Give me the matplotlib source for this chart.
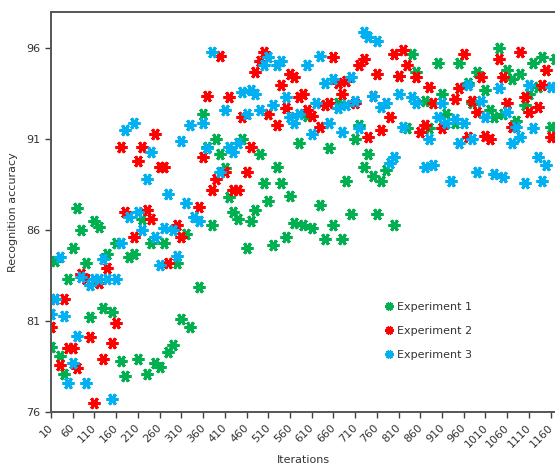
import matplotlib
matplotlib.use("Agg")
import matplotlib.pyplot as plt
import matplotlib.transforms as mtransforms
from matplotlib.ticker import FixedLocator

# ---- data ----
exp1_x = [10, 20, 30, 40, 50, 60, 70, 80, 90, 100, 110, 120, 130, 140, 150, 160, 170, 180, 190, 200,
          210, 220, 230, 240, 250, 260, 270, 280, 290, 300, 310, 320, 330, 350, 360, 370, 380, 390, 400,
          410, 420, 430, 440, 450, 460, 470, 480, 490, 500, 510, 520, 530, 540, 550, 560, 570, 580, 590,
          600, 610, 630, 640, 650, 660, 670, 680, 690, 700, 710, 720, 730, 740, 750, 760, 770, 780, 800,
          810, 830, 840, 850, 870, 880, 900, 910, 920, 940, 950, 970, 980, 990, 1010, 1020, 1030, 1040,
          1050, 1060, 1070, 1080, 1090, 1100, 1110, 1120, 1130, 1140, 1160, 1170]
exp1_y = [79.6, 84.3, 79.1, 78.1, 83.3, 85.0, 87.2, 86.0, 84.2, 81.2, 86.5, 86.2, 81.7, 84.7, 81.5, 85.3,
          78.8, 78.0, 84.5, 84.7, 78.9, 86.6, 78.1, 85.3, 78.7, 78.5, 85.3, 79.3, 79.7, 84.2, 81.1, 85.8,
          80.7, 82.9, 92.4, 90.6, 86.3, 91.0, 90.2, 89.4, 87.8, 87.0, 86.6, 91.0, 85.0, 86.5, 87.1, 90.2,
          88.6, 87.6, 85.2, 89.5, 88.6, 85.6, 87.9, 86.4, 90.8, 86.3, 92.3, 86.1, 87.4, 85.5, 90.5, 86.3,
          93.0, 85.5, 88.7, 86.9, 91.0, 91.8, 89.5, 90.2, 89.0, 86.9, 88.7, 89.3, 86.3, 94.5, 91.6, 95.7,
          94.7, 93.1, 91.6, 95.2, 93.5, 92.4, 91.9, 95.2, 94.1, 93.0, 94.7, 93.7, 92.6, 92.2, 96.0, 92.4,
          94.8, 94.3, 92.0, 94.6, 92.9, 93.5, 95.2, 93.9, 95.5, 91.7, 95.4]

exp2_x = [10, 20, 30, 40, 50, 60, 70, 80, 90, 100, 110, 120, 130, 140, 150, 160, 170, 180, 200, 210,
          220, 230, 240, 250, 260, 270, 280, 300, 310, 350, 360, 370, 380, 390, 400, 410, 420, 430, 440,
          450, 460, 470, 480, 490, 500, 510, 530, 540, 550, 560, 570, 580, 590, 600, 610, 630, 640, 650,
          660, 670, 680, 690, 710, 720, 730, 740, 750, 760, 770, 790, 800, 810, 820, 830, 850, 860, 870,
          880, 890, 910, 940, 950, 960, 970, 980, 990, 1000, 1010, 1020, 1040, 1050, 1060, 1070, 1090,
          1100, 1110, 1130, 1140, 1150, 1160]
exp2_y = [80.7, 82.2, 78.6, 82.2, 79.5, 79.5, 78.4, 83.6, 83.3, 80.1, 76.5, 83.1, 78.9, 83.9, 79.8, 80.9,
          90.6, 87.0, 85.6, 89.8, 90.6, 87.1, 86.6, 91.3, 89.5, 89.5, 84.2, 86.3, 85.6, 87.3, 90.0, 93.4,
          88.2, 88.8, 95.6, 89.2, 93.3, 88.2, 88.2, 92.2, 89.2, 90.6, 94.7, 95.3, 95.8, 92.4, 91.8, 94.0,
          92.7, 94.6, 94.4, 93.3, 93.5, 92.6, 92.3, 91.7, 92.9, 93.0, 95.5, 94.1, 93.5, 94.2, 93.0, 95.1,
          95.4, 91.1, 93.4, 94.6, 91.5, 92.2, 95.7, 94.5, 95.9, 95.1, 94.4, 91.4, 91.8, 93.9, 93.0, 91.6,
          93.2, 93.8, 95.7, 91.1, 93.1, 92.5, 94.4, 91.2, 91.0, 95.4, 94.4, 93.0, 91.7, 95.8, 93.3, 92.5,
          92.8, 94.0, 94.8, 91.1]

exp3_x = [10, 20, 30, 40, 50, 60, 70, 80, 90, 100, 110, 120, 130, 140, 150, 160, 170, 180, 190, 200,
          210, 220, 230, 240, 250, 260, 270, 280, 290, 300, 310, 320, 330, 340, 350, 360, 370, 380, 400,
          410, 420, 430, 440, 450, 460, 470, 480, 490, 500, 510, 520, 530, 540, 550, 560, 570, 580, 600,
          610, 620, 630, 640, 650, 660, 670, 680, 690, 700, 710, 720, 730, 740, 750, 760, 770, 780, 790,
          800, 810, 820, 840, 850, 870, 880, 890, 900, 910, 920, 930, 940, 950, 960, 970, 980, 990, 1000,
          1010, 1030, 1040, 1050, 1060, 1070, 1080, 1090, 1100, 1110, 1120, 1130, 1140, 1150, 1160]
exp3_y = [81.4, 82.2, 84.5, 81.3, 77.6, 78.7, 80.2, 83.4, 77.6, 83.0, 83.3, 83.3, 84.4, 83.3, 76.7, 83.3,
          85.3, 91.5, 86.7, 91.9, 87.0, 86.0, 88.8, 90.3, 85.6, 84.1, 86.1, 88.0, 86.0, 84.6, 90.9, 87.5,
          91.8, 86.7, 86.5, 91.9, 90.5, 95.8, 89.2, 92.6, 90.6, 90.3, 90.8, 93.6, 92.4, 93.7, 93.5, 92.6,
          95.1, 95.5, 92.9, 95.1, 95.3, 93.3, 92.2, 91.9, 92.4, 95.1, 91.3, 93.0, 95.6, 94.1, 91.9, 94.3,
          92.7, 91.4, 92.9, 94.4, 93.1, 91.6, 96.9, 96.6, 93.4, 96.4, 92.8, 93.0, 89.7, 90.0, 93.5, 91.7,
          93.3, 93.0, 89.5, 91.0, 89.6, 92.2, 93.0, 91.9, 88.7, 92.1, 90.8, 91.9, 94.0, 91.0, 89.2, 93.1,
          92.2, 89.1, 93.8, 88.9, 92.5, 90.8, 91.7, 91.1, 88.6, 94.0, 91.6, 90.0, 88.7, 89.6, 93.9]

series_names = ["Experiment 1", "Experiment 2", "Experiment 3"]
series_colors = ["#00B050", "#FF0000", "#00B0F0"]
x_ticks = list(range(10, 1161, 50))
y_ticks = [76, 81, 86, 91, 96]

# ---- figure ----
fig = plt.figure(figsize=(5.55, 4.68), dpi=100)
ax = fig.add_axes([51 / 555, 56 / 468, 1 - 51 / 555, 400 / 468])

marker = (6, 2, 90)
for xs, ys, name, col in zip([exp1_x, exp2_x, exp3_x], [exp1_y, exp2_y, exp3_y],
                             series_names, series_colors):
    ax.plot(xs, ys, linestyle="none", marker=marker, markersize=8.5,
            markeredgewidth=2.2, color=col, label=name)

ax.set_xlim(10, 1170)
ax.set_ylim(76, 98)
ax.xaxis.set_major_locator(FixedLocator(x_ticks))
ax.yaxis.set_major_locator(FixedLocator(y_ticks))
ax.set_xticklabels([str(t) for t in x_ticks], rotation=45, ha="right",
                   rotation_mode="anchor", fontsize=8, color="#333333")
ax.set_yticklabels([str(t) for t in y_ticks], fontsize=8, color="#333333")
ax.tick_params(direction="out", length=4, width=1, color="#404040")

offset = mtransforms.ScaledTranslation(-3 / 100, 0, fig.dpi_scale_trans)
for lbl in ax.get_xticklabels():
    lbl.set_transform(lbl.get_transform() + offset)

for s in ["left", "bottom", "top"]:
    ax.spines[s].set_color("#555555")
    ax.spines[s].set_linewidth(1.4)
ax.spines["right"].set_visible(False)

ax.set_xlabel("Iterations", fontsize=8, color="#333333", labelpad=4)
ax.set_ylabel("Recognition accuracy", fontsize=8, color="#333333", labelpad=6)

leg = ax.legend(loc="upper left", bbox_to_anchor=(0.64, 0.3), frameon=False,
                fontsize=8, markerscale=0.7, handletextpad=0.2, labelspacing=1.25,
                handlelength=1.0)
for t in leg.get_texts():
    t.set_color("#333333")

fig.savefig("out.png", dpi=100)
